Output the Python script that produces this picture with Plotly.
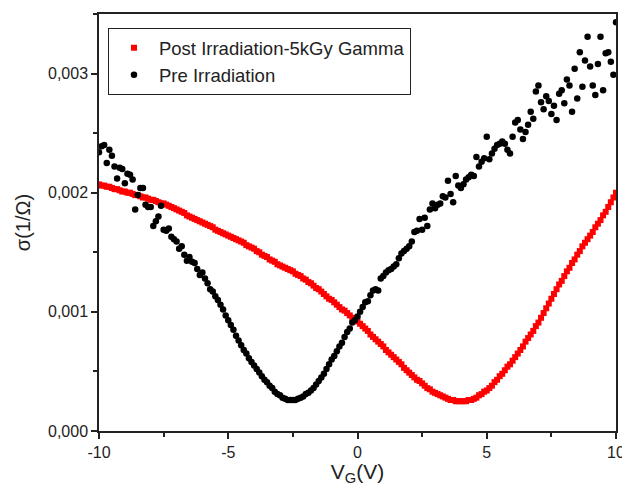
import numpy as np
import plotly.graph_objects as go

# Gate voltage sweep (V)
vg = np.round(np.linspace(-10, 10, 201), 1)

# Post irradiation (5 kGy gamma) conductance, 1/Ohm
post_sigma = [
    0.00207, 0.00206, 0.00206, 0.00205, 0.00205, 0.00204, 0.00203, 0.00203, 0.00202, 0.00201,
    0.00201, 0.00200, 0.00200, 0.00199, 0.00198, 0.00198, 0.00197, 0.00196, 0.00196, 0.00195,
    0.00194, 0.00194, 0.00193, 0.00192, 0.00191, 0.00191, 0.00190, 0.00189, 0.00188, 0.00187,
    0.00186, 0.00185, 0.00184, 0.00183, 0.00181, 0.00180, 0.00179, 0.00178, 0.00177, 0.00176,
    0.00175, 0.00174, 0.00173, 0.00172, 0.00171, 0.00169, 0.00168, 0.00167, 0.00166, 0.00165,
    0.00164, 0.00163, 0.00162, 0.00161, 0.00160, 0.00159, 0.00158, 0.00156, 0.00155, 0.00154,
    0.00153, 0.00151, 0.00150, 0.00148, 0.00147, 0.00146, 0.00144, 0.00143, 0.00142, 0.00140,
    0.00139, 0.00138, 0.00137, 0.00136, 0.00135, 0.00134, 0.00132, 0.00131, 0.00130, 0.00128,
    0.00127, 0.00125, 0.00124, 0.00122, 0.00120, 0.00119, 0.00117, 0.00115, 0.00113, 0.00111,
    0.00110, 0.00108, 0.00106, 0.00104, 0.00102, 0.00101, 0.00099, 0.00097, 0.00095, 0.00094,
    0.00092,
    0.00090, 0.00088, 0.00086, 0.00084, 0.00081, 0.00079, 0.00077, 0.00075, 0.00073, 0.00071,
    0.00068, 0.00066, 0.00064, 0.00062, 0.00060, 0.00058, 0.00056, 0.00053, 0.00051, 0.00049,
    0.00047, 0.00045, 0.00043, 0.00042, 0.00040, 0.00038, 0.00036, 0.00035, 0.00033, 0.00032,
    0.00031, 0.00030, 0.00029, 0.00028, 0.00027, 0.00026, 0.00026, 0.00025, 0.00025, 0.00025,
    0.00025, 0.00025, 0.00026, 0.00026, 0.00027, 0.00028, 0.00030, 0.00031, 0.00033, 0.00034,
    0.00036, 0.00038, 0.00041, 0.00043, 0.00046, 0.00048, 0.00051, 0.00054, 0.00056, 0.00059,
    0.00062, 0.00065, 0.00068, 0.00071, 0.00075, 0.00078, 0.00081, 0.00084, 0.00088, 0.00091,
    0.00095, 0.00099, 0.00103, 0.00107, 0.00111, 0.00115, 0.00119, 0.00123, 0.00126, 0.00130,
    0.00134, 0.00137, 0.00141, 0.00144, 0.00148, 0.00151, 0.00155, 0.00158, 0.00161, 0.00164,
    0.00167, 0.00171, 0.00174, 0.00177, 0.00181, 0.00184, 0.00188, 0.00192, 0.00196, 0.00200,
]

# Pre irradiation conductance, 1/Ohm
pre_sigma = [
    0.00234, 0.00239, 0.00240, 0.00225, 0.00236, 0.00231, 0.00222, 0.00212, 0.00221, 0.00220,
    0.00208, 0.00216, 0.00215, 0.00211, 0.00186, 0.00198, 0.00204, 0.00204, 0.00190, 0.00188,
    0.00188, 0.00172, 0.00176, 0.00180, 0.00189, 0.00169, 0.00168, 0.00170, 0.00163, 0.00161,
    0.00159, 0.00153, 0.00155, 0.00148, 0.00143, 0.00146, 0.00142, 0.00141, 0.00136, 0.00131,
    0.00133, 0.00128, 0.00124, 0.00119, 0.00117, 0.00113, 0.00110, 0.00106, 0.00102, 0.00097,
    0.00093, 0.00089, 0.00085, 0.00080, 0.00076, 0.00072, 0.00068, 0.00065, 0.00061, 0.00058,
    0.00055, 0.00052, 0.00049, 0.00046, 0.00043, 0.00041, 0.00038, 0.00036, 0.00033, 0.00031,
    0.00030, 0.00028, 0.00027, 0.00026, 0.00026, 0.00026, 0.00026, 0.00027, 0.00028, 0.00029,
    0.00031, 0.00032, 0.00034, 0.00036, 0.00039, 0.00042, 0.00045, 0.00048, 0.00052, 0.00056,
    0.00060, 0.00063, 0.00067, 0.00071, 0.00074, 0.00079, 0.00083, 0.00086, 0.00091, 0.00093,
    0.00096,
    0.00100, 0.00104, 0.00108, 0.00109, 0.00114, 0.00118, 0.00119, 0.00118, 0.00128, 0.00130,
    0.00133, 0.00135, 0.00136, 0.00138, 0.00140, 0.00145, 0.00149, 0.00151, 0.00153, 0.00155,
    0.00159, 0.00167, 0.00168, 0.00178, 0.00169, 0.00179, 0.00172, 0.00186, 0.00191, 0.00187,
    0.00190, 0.00191, 0.00197, 0.00196, 0.00210, 0.00199, 0.00192, 0.00214, 0.00206, 0.00204,
    0.00207, 0.00211, 0.00213, 0.00215, 0.00214, 0.00230, 0.00222, 0.00226, 0.00229, 0.00247,
    0.00228, 0.00233, 0.00237, 0.00240, 0.00241, 0.00243, 0.00241, 0.00236, 0.00233, 0.00247,
    0.00259, 0.00261, 0.00253, 0.00245, 0.00251, 0.00257, 0.00268, 0.00262, 0.00285, 0.00290,
    0.00276, 0.00270, 0.00281, 0.00277, 0.00266, 0.00273, 0.00261, 0.00283, 0.00286, 0.00275,
    0.00295, 0.00290, 0.00268, 0.00304, 0.00279, 0.00318, 0.00289, 0.00311, 0.00331, 0.00306,
    0.00290, 0.00282, 0.00308, 0.00331, 0.00286, 0.00317, 0.00318, 0.00310, 0.00299, 0.00343,
]

x_ticks = [-10, -5, 0, 5, 10]
y_ticks = [0.000, 0.001, 0.002, 0.003]

FONT = "Liberation Sans, Arial, sans-serif"

fig = go.Figure()
fig.add_trace(go.Scatter(
    x=vg, y=post_sigma, mode="markers", name="Post Irradiation-5kGy Gamma",
    marker=dict(symbol="square", size=6, color="#ff0000", line=dict(width=0)),
))
fig.add_trace(go.Scatter(
    x=vg, y=pre_sigma, mode="markers", name="Pre Irradiation",
    marker=dict(symbol="circle", size=6.5, color="#000000", line=dict(width=0)),
))

axis_common = dict(
    showline=True, linecolor="#222", linewidth=1.5, mirror=True,
    ticks="outside", ticklen=6, tickwidth=1.5, tickcolor="#222",
    showgrid=False, zeroline=False,
    tickfont=dict(family=FONT, size=16, color="#222"),
    ticklabeloverflow="allow",
)

fig.update_xaxes(
    range=[-10, 10], tickvals=x_ticks, ticktext=[str(v) for v in x_ticks],
    minor=dict(dtick=2.5, ticks="outside", ticklen=4, tickwidth=1.5, tickcolor="#222"),
    title=dict(text="V<sub>G</sub>(V)", font=dict(family=FONT, size=21, color="#222"), standoff=7),
    automargin=False,
    **axis_common,
)
fig.update_yaxes(
    range=[0, 0.0035], tickvals=y_ticks, tickformat=".3f",
    minor=dict(dtick=0.0005, ticks="outside", ticklen=4, tickwidth=1.5, tickcolor="#222"),
    title=dict(text="σ(1/Ω)", font=dict(family=FONT, size=20, color="#222"), standoff=12),
    automargin=False,
    **axis_common,
)

fig.update_layout(
    width=622, height=486,
    margin=dict(l=99, r=6, t=14, b=55),
    paper_bgcolor="white", plot_bgcolor="white",
    separators=",.",
    showlegend=True,
    legend=dict(
        x=0.0174, y=0.966, xanchor="left", yanchor="top",
        bgcolor="white", bordercolor="#222", borderwidth=1,
        font=dict(family=FONT, size=18.5, color="#222"),
        itemwidth=40, tracegroupgap=0,
    ),
)

fig.write_html(
    "out.html",
    config={"displayModeBar": False},
    post_script="document.body.style.margin='0px';",
)
